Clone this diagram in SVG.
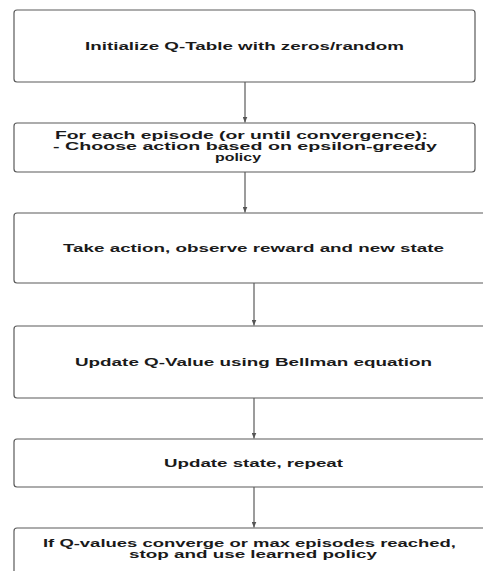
<svg xmlns="http://www.w3.org/2000/svg" width="483" height="571" viewBox="0 0 483 571">
<style>
.box{fill:#ffffff;stroke:#5a5a5a;stroke-width:1.2}
.t{font-family:"Liberation Sans",Arial,sans-serif;font-weight:bold;font-size:10.5px;fill:#1a1a1a;text-anchor:middle}
.c{stroke:#5a5a5a;stroke-width:1.2;fill:none}
</style>
<defs>
<marker id="ah" markerWidth="6" markerHeight="5" refX="6" refY="2.5" orient="auto" markerUnits="userSpaceOnUse">
<path d="M0,0 L6,2.5 L0,5 Z" fill="#555555"/>
</marker>
</defs>
<rect width="483" height="571" fill="#ffffff"/>
<g id="connectors">
<line class="c" x1="245" y1="82" x2="245" y2="122.5" marker-end="url(#ah)"/>
<line class="c" x1="245" y1="172" x2="245" y2="212.5" marker-end="url(#ah)"/>
<line class="c" x1="254" y1="283" x2="254" y2="325.5" marker-end="url(#ah)"/>
<line class="c" x1="254" y1="398" x2="254" y2="438.5" marker-end="url(#ah)"/>
<line class="c" x1="254" y1="487" x2="254" y2="527.5" marker-end="url(#ah)"/>
</g>
<g id="n1">
<rect class="box" x="14" y="10" width="461" height="72" rx="3"/>
<text class="t" x="244.5" y="49.5" textLength="319" lengthAdjust="spacingAndGlyphs">Initialize Q-Table with zeros/random</text>
</g>
<g id="n2">
<rect class="box" x="14" y="123" width="461" height="49" rx="3"/>
<text class="t" x="241.5" y="139" textLength="373" lengthAdjust="spacingAndGlyphs">For each episode (or until convergence):</text>
<text class="t" x="245" y="150" textLength="384" lengthAdjust="spacingAndGlyphs">- Choose action based on epsilon-greedy</text>
<text class="t" x="238" y="161" textLength="46" lengthAdjust="spacingAndGlyphs">policy</text>
</g>
<g id="n3">
<rect class="box" x="14" y="213" width="482" height="70" rx="3"/>
<text class="t" x="253.5" y="251.5" textLength="381" lengthAdjust="spacingAndGlyphs">Take action, observe reward and new state</text>
</g>
<g id="n4">
<rect class="box" x="14" y="326" width="482" height="72" rx="3"/>
<text class="t" x="253.5" y="365.5" textLength="357" lengthAdjust="spacingAndGlyphs">Update Q-Value using Bellman equation</text>
</g>
<g id="n5">
<rect class="box" x="14" y="439" width="482" height="48" rx="3"/>
<text class="t" x="253.5" y="466.5" textLength="179" lengthAdjust="spacingAndGlyphs">Update state, repeat</text>
</g>
<g id="n6">
<rect class="box" x="14" y="528" width="482" height="60" rx="3"/>
<text class="t" x="249.5" y="547" textLength="413" lengthAdjust="spacingAndGlyphs">If Q-values converge or max episodes reached,</text>
<text class="t" x="253" y="558" textLength="248" lengthAdjust="spacingAndGlyphs">stop and use learned policy</text>
</g>
</svg>
